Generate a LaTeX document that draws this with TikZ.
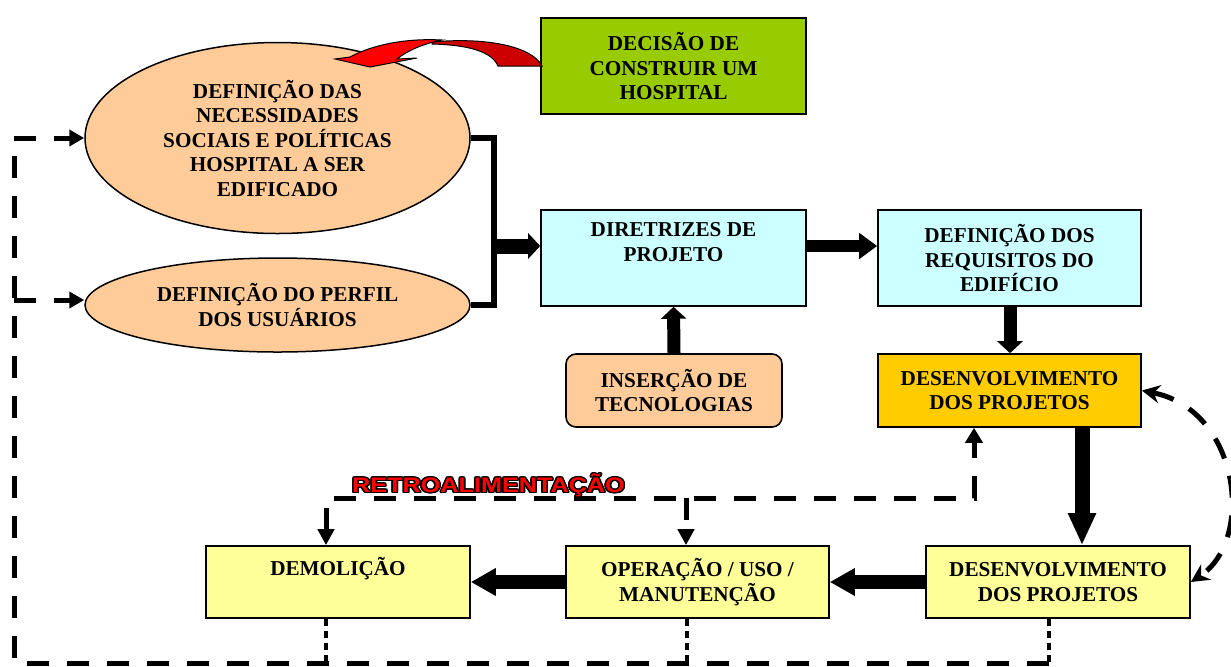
\documentclass[tikz,border=0pt]{standalone}
\usepackage{fontspec}
\setmainfont{Liberation Serif}
\newfontfamily\retrofont{Liberation Sans}
\usepackage{graphicx}
\usepackage{contour}
\contourlength{0.65pt}
\usetikzlibrary{arrows.meta,shapes.geometric}

\definecolor{cgreen}{HTML}{99CC00}
\definecolor{ccyan}{HTML}{CCFFFF}
\definecolor{cpeach}{HTML}{FFCC99}
\definecolor{corange}{HTML}{FFCC00}
\definecolor{cyellow}{HTML}{FFFF99}
\definecolor{redlight}{HTML}{FF0000}
\definecolor{reddark}{HTML}{CC0000}

\newcommand\boxfont{\fontsize{10.6pt}{12.25pt}\selectfont\bfseries}

\begin{document}
\begin{tikzpicture}[x=0.5pt,y=-0.5pt,
  box/.style={draw=black, line width=0.8pt, align=center, inner sep=0pt, font=\boxfont},
  oval/.style={box, ellipse, fill=cpeach, line width=0.75pt},
  loopdash/.style={line width=2.5pt, dash pattern=on 11pt off 9pt, line cap=butt},
  dotline/.style={line width=2pt, dash pattern=on 3.5pt off 2.5pt},
  smalltip/.style={-{Triangle[width=8pt,length=7.5pt]}},
]
\useasboundingbox (0,0) rectangle (1231,666);

% ---- boxes ----
\node[box, fill=cgreen, minimum width=132.5pt, minimum height=48pt] (decisao) at (673.5,66)
  {DECISÃO DE\\CONSTRUIR UM\\HOSPITAL};
\node[box, fill=ccyan, minimum width=132.5pt, minimum height=48pt] (diretrizes) at (673.5,258)
  {DIRETRIZES DE\\PROJETO\\\strut};
\node[box, fill=ccyan, minimum width=131.5pt, minimum height=48pt] (requisitos) at (1009.5,258)
  {DEFINIÇÃO DOS\\REQUISITOS DO\\EDIFÍCIO};
\node[box, fill=cpeach, rounded corners=5pt, minimum width=108pt, minimum height=36.5pt] (insercao) at (674,390.5)
  {INSERÇÃO DE\\TECNOLOGIAS};
\node[box, fill=corange, minimum width=131.5pt, minimum height=36.5pt] (desenv1) at (1009.5,390.5)
  {DESENVOLVIMENTO\\DOS PROJETOS};
\node[box, fill=cyellow, minimum width=132pt, minimum height=36pt] (demolicao) at (338,582)
  {DEMOLIÇÃO\\\strut};
\node[box, fill=cyellow, minimum width=131.5pt, minimum height=36pt] (operacao) at (697.5,582)
  {OPERAÇÃO / USO /\\MANUTENÇÃO};
\node[box, fill=cyellow, minimum width=132pt, minimum height=36pt] (desenv2) at (1058,582)
  {DESENVOLVIMENTO\\DOS PROJETOS};

% ---- ellipses ----
\node[oval, minimum width=192.5pt, minimum height=95.5pt] (necessidades) at (277.5,138)
  {DEFINIÇÃO DAS\\NECESSIDADES\\SOCIAIS E POLÍTICAS\\HOSPITAL A SER\\EDIFICADO};
\node[oval, minimum width=192.5pt, minimum height=47pt] (perfil) at (277.5,305)
  {DEFINIÇÃO DO PERFIL\\DOS USUÁRIOS};

% ---- red curved arrow from the decision box ----
\draw[line width=0.5pt, fill=reddark]
  (432,42) .. controls (485,37) and (532,46) .. (542,66) -- (498,66)
  .. controls (492,52) and (470,45) .. (432,44) -- cycle;
\draw[line width=0.5pt, fill=redlight]
  (350,57) .. controls (372,45) and (405,38) .. (442,40)
  .. controls (422,44) and (407,51) .. (397,59)
  -- (417,58) -- (370,67) -- (335,59) -- cycle;

% ---- solid connectors ----
\coordinate (join) at (494,246);
\draw[line width=3pt] (necessidades.east) -| (join) |- (perfil.east);
\draw[line width=7.5pt, -{Triangle[width=12.5pt,length=6pt]}] (join) -- (join -| diretrizes.west);
\draw[line width=6pt, -{Triangle[width=12.5pt,length=9pt]}] (diretrizes.east |- join) -- (requisitos.west |- join);
\draw[line width=6.5pt, -{Triangle[width=12.5pt,length=6pt]}] (insercao.north) -- (diretrizes.south);
\coordinate (rx) at (1010,0);
\draw[line width=6.5pt, -{Triangle[width=12.5pt,length=6pt]}] (rx |- requisitos.south) -- (rx |- desenv1.north);
\coordinate (ox) at (1082,0);
\draw[line width=7.5pt, -{Triangle[width=13pt,length=16pt]}] (ox |- desenv1.south) -- (ox |- desenv2.north);
\draw[line width=7pt, -{Triangle[width=13pt,length=12.5pt]}] (desenv2.west) -- (operacao.east);
\draw[line width=7pt, -{Triangle[width=13pt,length=12.5pt]}] (operacao.west) -- (demolicao.east);

% ---- feedback loop ----
\coordinate (fbL) at (326,498);
\coordinate (fbM) at (686,498);
\coordinate (fbR) at (974,498);
\draw[loopdash, {Triangle[width=8pt,length=8pt]}-{Triangle[width=8.5pt,length=7.5pt]}]
  (fbL |- demolicao.north) -- (fbL) -- (fbR) -- (fbR |- desenv1.south);
\draw[loopdash, -{Triangle[width=8pt,length=8pt]}] (fbM) -- (fbM |- operacao.north);
\node[font=\retrofont\bfseries\fontsize{10.5pt}{11pt}\selectfont, inner sep=0pt] (retro) at (488.5,486)
  {\scalebox{1.2}[1]{\contour{black}{\textcolor{red}{RETROALIMENTAÇÃO}}}};

% ---- curved loop between the two development stages ----
\draw[loopdash, {Stealth[length=9pt,width=9pt]}-{Stealth[length=9pt,width=9pt]}]
  (desenv1.east) .. controls (1240,410) and (1255,540) .. (desenv2.east);

% ---- outer return loop ----
\coordinate (c1) at (326,663);
\coordinate (c2) at (687,663);
\coordinate (c3) at (1049,663);
\coordinate (bl) at (14,663);
\coordinate (tl) at (14,138);
\coordinate (ml) at (14,300);
\draw[dotline] (c1 |- demolicao.south) -- (c1);
\draw[dotline] (c2 |- operacao.south) -- (c2);
\draw[dotline] (c3 |- desenv2.south) -- (c3);
\draw[loopdash, smalltip] (c3) -- (bl) -- (tl) -- (necessidades.west);
\draw[loopdash, smalltip] (ml) -- (ml -| perfil.west);
\end{tikzpicture}
\end{document}
